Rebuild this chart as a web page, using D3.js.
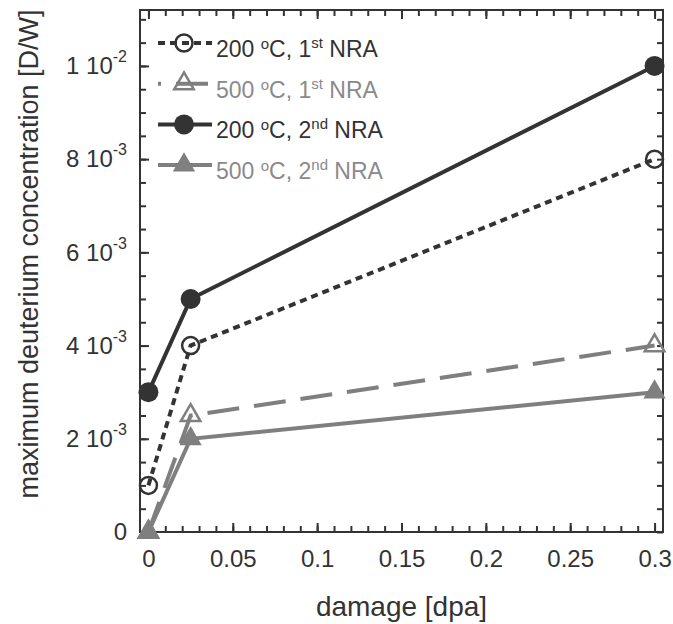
<!DOCTYPE html>
<html>
<head>
<meta charset="utf-8">
<script src="https://cdn.jsdelivr.net/npm/d3@7"></script>
<style>
body{margin:0;background:#fff;}
svg text{font-family:"Liberation Sans",Arial,sans-serif;white-space:pre;}
</style>
</head>
<body>
<svg id="chart" width="673" height="624"></svg>
<script>
// values
const damage = [0, 0.025, 0.3];
const conc200first = [0.001, 0.004, 0.008];
const conc500first = [0, 0.0025, 0.004];
const conc200second = [0.003, 0.005, 0.01];
const conc500second = [0, 0.002, 0.003];

const seriesTemp = ['200', '500', '200', '500'];
const seriesRun = ['1', '1', '2', '2'];
const seriesRunSup = ['st', 'st', 'nd', 'nd'];

const xTicks = [0, 0.05, 0.1, 0.15, 0.2, 0.25, 0.3];
const xTickLabels = ['0', '0.05', '0.1', '0.15', '0.2', '0.25', '0.3'];
const yTicks = [0, 0.002, 0.004, 0.006, 0.008, 0.01];
const yTickBase = ['0', '2 10', '4 10', '6 10', '8 10', '1 10'];
const yTickExp = ['', '-3', '-3', '-3', '-3', '-2'];

const dark = '#333333', grey = '#7f7f7f';
const styles = [
    {values: conc200first, color: dark, text: dark, dash: '7,5', marker: 'circle', filled: false},
    {values: conc500first, color: grey, text: '#8a8a8a', dash: '32,15', marker: 'triangle', filled: false},
    {values: conc200second, color: dark, text: dark, dash: null, marker: 'circle', filled: true},
    {values: conc500second, color: grey, text: '#8a8a8a', dash: null, marker: 'triangle', filled: true}
];

const svg = d3.select('#chart');
const plot = {left: 140, right: 663, top: 10, bottom: 532};

const x = d3.scaleLinear().domain([-0.005, 0.305]).range([plot.left, plot.right]);
const y = d3.scaleLinear().domain([0, 0.0112]).range([plot.bottom, plot.top]);

const xMinor = d3.range(0, 0.3001, 0.01);
const yMinor = d3.range(0, 0.0112, 0.0005);

// ticks on all four sides, pointing inward
const styleAxis = g => {
    g.select('.domain').remove();
    g.selectAll('.tick line').attr('stroke', dark).attr('stroke-width', 2);
    g.selectAll('.tick text').attr('fill', dark).attr('font-size', 24);
};

svg.append('g').attr('transform', `translate(0,${plot.bottom})`)
    .call(d3.axisBottom(x).tickValues(xMinor).tickSize(-6).tickFormat(''))
    .call(styleAxis);
svg.append('g').attr('transform', `translate(0,${plot.top})`)
    .call(d3.axisTop(x).tickValues(xMinor).tickSize(-6).tickFormat(''))
    .call(styleAxis);
svg.append('g').attr('transform', `translate(0,${plot.bottom})`)
    .call(d3.axisBottom(x).tickValues(xTicks).tickSize(-9).tickPadding(18).tickFormat((d, i) => xTickLabels[i]))
    .call(styleAxis);
svg.append('g').attr('transform', `translate(0,${plot.top})`)
    .call(d3.axisTop(x).tickValues(xTicks).tickSize(-9).tickFormat(''))
    .call(styleAxis);

svg.append('g').attr('transform', `translate(${plot.left},0)`)
    .call(d3.axisLeft(y).tickValues(yMinor).tickSize(-6).tickFormat(''))
    .call(styleAxis);
svg.append('g').attr('transform', `translate(${plot.right},0)`)
    .call(d3.axisRight(y).tickValues(yMinor).tickSize(-6).tickFormat(''))
    .call(styleAxis);
const gy = svg.append('g').attr('transform', `translate(${plot.left},0)`)
    .call(d3.axisLeft(y).tickValues(yTicks).tickSize(-9).tickPadding(13).tickFormat(''))
    .call(styleAxis);
gy.selectAll('.tick text').each(function (d, i) {
    const t = d3.select(this);
    t.append('tspan').text(yTickBase[i]);
    if (yTickExp[i])
        t.append('tspan').attr('dy', -12).attr('font-size', 16).text(yTickExp[i]);
});

svg.append('rect')
    .attr('x', plot.left).attr('y', plot.top)
    .attr('width', plot.right - plot.left).attr('height', plot.bottom - plot.top)
    .attr('fill', 'none').attr('stroke', dark).attr('stroke-width', 2);

// axis titles
svg.append('text')
    .attr('x', (plot.left + plot.right) / 2).attr('y', 616)
    .attr('text-anchor', 'middle').attr('font-size', 28).attr('fill', dark)
    .text('damage [dpa]');
svg.append('text')
    .attr('transform', 'translate(38,254) rotate(-90)')
    .attr('text-anchor', 'middle').attr('font-size', 27).attr('fill', dark)
    .text('maximum deuterium concentration [D/W]');

const drawMarker = (g, cx, cy, st) => {
    if (st.marker === 'circle') {
        g.append('circle')
            .attr('cx', cx).attr('cy', cy)
            .attr('r', st.filled ? 10 : 8.5)
            .attr('fill', st.filled ? st.color : 'none')
            .attr('stroke', st.color)
            .attr('stroke-width', st.filled ? 0 : 2.5);
    } else {
        g.append('path')
            .attr('transform', `translate(${cx},${cy})`)
            .attr('d', d3.symbol(d3.symbolTriangle, st.filled ? 215 : 165)())
            .attr('fill', st.filled ? st.color : 'none')
            .attr('stroke', st.color)
            .attr('stroke-width', st.filled ? 0 : 2.5);
    }
};

const line = d3.line()
    .x((d, i) => x(damage[i]))
    .y(d => y(d));

const series = svg.append('g').attr('class', 'series');
styles.forEach(st => {
    const g = series.append('g');
    g.append('path')
        .attr('d', line(st.values))
        .attr('fill', 'none')
        .attr('stroke', st.color)
        .attr('stroke-width', 4)
        .attr('stroke-dasharray', st.dash);
    st.values.forEach((v, i) => drawMarker(g, x(damage[i]), y(v), st));
});

// legend
const legend = svg.append('g').attr('class', 'legend');
styles.forEach((st, i) => {
    const cy = 43 + i * 40.7;
    const g = legend.append('g');
    g.append('line')
        .attr('x1', 158).attr('x2', 212)
        .attr('y1', cy).attr('y2', cy)
        .attr('stroke', st.color)
        .attr('stroke-width', 4)
        .attr('stroke-dasharray', st.dash)
        .attr('stroke-dashoffset', st.dash === '32,15' ? 29 : 0);
    drawMarker(g, 184, cy, st);
    const t = g.append('text')
        .attr('x', 216).attr('y', cy + 14)
        .attr('font-size', 23).attr('fill', st.text);
    t.append('tspan').text(seriesTemp[i] + ' ');
    t.append('tspan').attr('dy', -8).attr('font-size', 15).text('o');
    t.append('tspan').attr('dy', 8).text('C, ' + seriesRun[i]);
    t.append('tspan').attr('dy', -9).attr('font-size', 15).text(seriesRunSup[i]);
    t.append('tspan').attr('dy', 9).text(' NRA');
});
</script>
</body>
</html>
